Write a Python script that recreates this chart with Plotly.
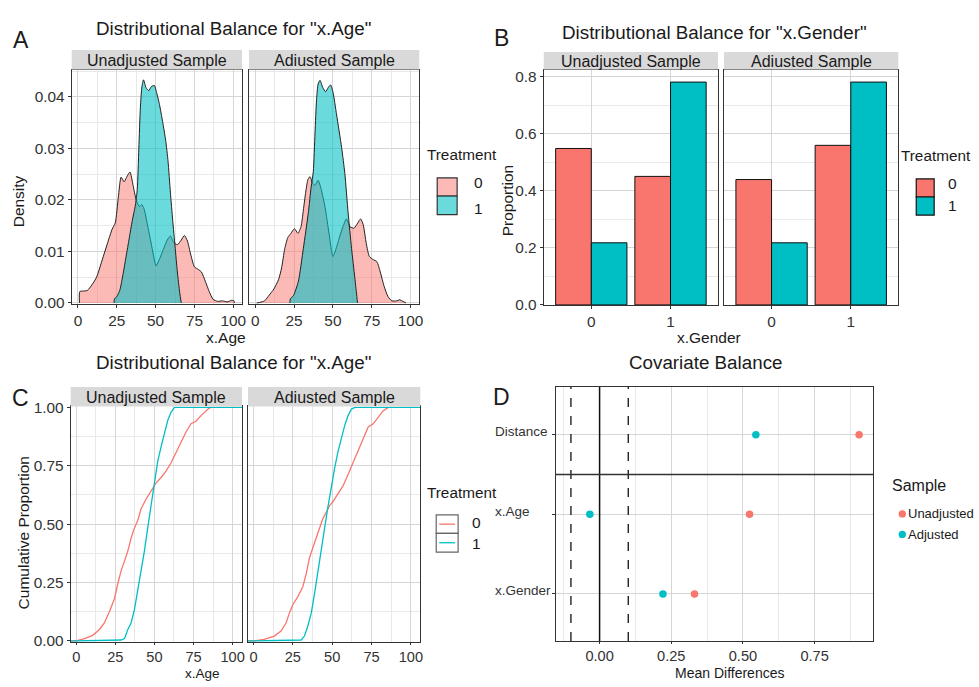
import plotly.graph_objects as go

# ---------------- data ----------------
# Panel A: density of x.Age
dens_unadj_t0_x = [1.0, 1.2, 3, 6, 9, 12, 16, 20, 22, 24, 26, 27.8, 29.8, 31, 33.5, 35.5, 37.5, 39.5, 41, 42.5, 45, 47.5,
                   50.3, 52.5, 55, 57.5, 59.5, 61.5, 64, 66.5, 68.5, 70.5, 72.5, 75, 77.5, 79.5, 82, 84.5, 87, 90, 93, 96,
                   99, 100.5, 100.6]
dens_unadj_t0_y = [0, 0.0022, 0.0023, 0.0024, 0.0035, 0.0050, 0.0087, 0.0125, 0.0143, 0.0155, 0.0205, 0.0244, 0.0235,
                   0.0242, 0.0254, 0.0228, 0.0200, 0.0187, 0.0191, 0.0183, 0.0148, 0.0110, 0.0072, 0.0085, 0.0104, 0.0122,
                   0.0130, 0.0118, 0.0113, 0.0122, 0.0131, 0.0120, 0.0095, 0.0070, 0.0065, 0.0060, 0.0042, 0.0022, 0.0007,
                   0.0003, 0.0004, 0.0002, 0.0005, 0.0004, 0]
dens_unadj_t1_x = [23.3, 23.5, 25, 27, 29, 31, 33, 35, 37, 38.2, 39.2, 40.2, 41.2, 42.2, 43.8, 45.5, 47.3, 49.2, 50.5,
                   52.5, 54.5, 56.5, 58, 59.5, 61, 62.5, 64, 65.5, 66.5]
dens_unadj_t1_y = [0, 0.0008, 0.0012, 0.0025, 0.0055, 0.0090, 0.0125, 0.0160, 0.0190, 0.0220, 0.0300, 0.0380, 0.0420,
                   0.0433, 0.0418, 0.0412, 0.0420, 0.0422, 0.0410, 0.0385, 0.0352, 0.0315, 0.0275, 0.0215, 0.0160,
                   0.0110, 0.0060, 0.0020, 0]
dens_adj_t0_x = [1.0, 3, 6, 9, 12, 15, 17, 19, 21, 23, 25.3, 27.5, 29.5, 31, 32.5, 34, 35.3, 37, 38.5, 40.5, 42.5, 45,
                 47.5, 50, 52, 54.5, 56.5, 58.7, 61, 63.5, 66, 67.8, 69.5, 71.5, 73.5, 76, 78.3, 80.5, 83, 85.5, 88, 91,
                 93, 95, 97]
dens_adj_t0_y = [0, 0.0001, 0.0004, 0.0015, 0.0027, 0.0045, 0.0068, 0.0105, 0.0127, 0.0135, 0.0144, 0.0135, 0.0148,
                 0.0180, 0.0215, 0.0240, 0.0245, 0.0232, 0.0228, 0.0238, 0.0220, 0.0185, 0.0135, 0.0090, 0.0105, 0.0130,
                 0.0148, 0.0163, 0.0148, 0.0145, 0.0155, 0.0163, 0.0152, 0.0115, 0.0090, 0.0084, 0.0080, 0.0060, 0.0032,
                 0.0012, 0.0004, 0.0004, 0.0006, 0.0003, 0]
dens_adj_t1_x = [22.4, 22.6, 24.6, 27.8, 31, 34.2, 36, 37.4, 38.5, 39.5, 40.5, 41.7, 43.5, 45.3, 47, 48.5, 50, 52.4,
                 55.6, 57.7, 59.8, 62, 64.1, 65.5, 65.8]
dens_adj_t1_y = [0, 0.0008, 0.0014, 0.0042, 0.0106, 0.0175, 0.0225, 0.0255, 0.0330, 0.0395, 0.0425, 0.0432, 0.0418,
                 0.0410, 0.0418, 0.0423, 0.0410, 0.0365, 0.0302, 0.0251, 0.0175, 0.0106, 0.0049, 0.0010, 0]

# Panel B: proportion of x.Gender
gender_levels = ["0", "1"]
prop_unadj_t0 = [0.549, 0.451]
prop_unadj_t1 = [0.218, 0.782]
prop_adj_t0 = [0.440, 0.560]
prop_adj_t1 = [0.218, 0.782]

# Panel C: empirical CDF of x.Age
ecdf_unadj_t0_x = [-3.5, 0, 5.3, 10.6, 14.9, 18, 21.3, 24.5, 26.6, 28.7, 30.9, 33, 35.1, 37.2, 39.4, 41.5, 44.7, 47.9,
                   51, 54.3, 57.4, 60.6, 63.8, 67, 70.2, 73.4, 76.6, 79.8, 83, 85, 86.2, 106]
ecdf_unadj_t0_y = [0, 0, 0.010, 0.024, 0.049, 0.077, 0.126, 0.182, 0.245, 0.300, 0.343, 0.385, 0.440, 0.483, 0.517,
                   0.566, 0.608, 0.643, 0.676, 0.700, 0.727, 0.762, 0.804, 0.853, 0.895, 0.930, 0.941, 0.965, 0.986,
                   0.997, 1.0, 1.0]
ecdf_unadj_t1_x = [-3.5, 0, 28.7, 30.9, 33, 35.1, 37.2, 39.4, 41.5, 43.6, 45.7, 47.9, 50, 52.1, 54.3, 56.4, 58.5, 60.6,
                   62.8, 106]
ecdf_unadj_t1_y = [0, 0, 0.004, 0.010, 0.049, 0.077, 0.133, 0.217, 0.300, 0.385, 0.483, 0.580, 0.685, 0.769, 0.832,
                   0.895, 0.944, 0.979, 1.0, 1.0]
ecdf_adj_t0_x = [-3.5, 0, 6.8, 13.2, 17.5, 20.7, 22.8, 24.9, 28.1, 31.3, 33.5, 35.6, 37.7, 39.9, 42, 44.1, 46.3, 48.4,
                 50.5, 53.7, 56.9, 60.1, 63.3, 66.5, 69.7, 72.9, 76.1, 79.3, 82.5, 85.7, 106]
ecdf_adj_t0_y = [0, 0, 0.007, 0.021, 0.042, 0.077, 0.119, 0.154, 0.189, 0.231, 0.287, 0.357, 0.399, 0.440, 0.483,
                 0.524, 0.552, 0.580, 0.597, 0.629, 0.664, 0.713, 0.762, 0.811, 0.860, 0.916, 0.930, 0.958, 0.986,
                 1.0, 1.0]
ecdf_adj_t1_x = [-3.5, 0, 30.3, 32.4, 34.5, 36.7, 38.8, 40.9, 43.1, 45.2, 47.3, 49.5, 51.6, 53.7, 55.9, 58, 60.1, 62.3,
                 64.4, 106]
ecdf_adj_t1_y = [0, 0, 0.004, 0.021, 0.063, 0.119, 0.203, 0.300, 0.399, 0.483, 0.573, 0.664, 0.741, 0.811, 0.874,
                 0.923, 0.965, 0.993, 1.0, 1.0]

# Panel D: covariate balance (mean differences)
bal_vars = ["x.Gender", "x.Age", "Distance"]
bal_unadj = [0.331, 0.523, 0.905]
bal_adj = [0.221, -0.034, 0.545]
bal_threshold = 0.1

facet_labels = ["Unadjusted Sample", "Adiusted Sample"]
treat_levels = ["0", "1"]
sample_levels = ["Unadjusted", "Adjusted"]

# ---------------- styling ----------------
W, H = 979, 687
RED = "#F8766D"
TEAL = "#00BFC4"
RED_A = "rgba(248,118,109,0.5)"
TEAL_A = "rgba(0,191,196,0.58)"
TXT = "#1a1a1a"
TICK = "#333333"
FONT = "Liberation Sans, Arial, sans-serif"


def fx(p):
    return p / W


def fy(p):
    return 1 - p / H


panels = {
    "A1": ((72, 243), (63, 303)),
    "A2": ((250, 421), (63, 303)),
    "B1": ((546, 721), (63, 304)),
    "B2": ((727, 902), (63, 304)),
    "C1": ((71, 243), (408, 649)),
    "C2": ((249, 422), (408, 649)),
    "D": ((558, 877), (388, 648)),
}
order = ["A1", "A2", "B1", "B2", "C1", "C2", "D"]


def dom(name):
    (x0, x1), (y0, y1) = panels[name]
    return [fx(x0), fx(x1)], [fy(y1), fy(y0)]


fig = go.Figure()

base = dict(showline=True, mirror=True, linecolor="#333333", linewidth=1, showgrid=True,
            gridcolor="#D6D6D6", gridwidth=1, zeroline=False, ticks="outside", ticklen=3,
            tickcolor=TICK, tickfont=dict(size=15.4, color=TICK, family=FONT), fixedrange=True)
minor_grid = dict(showgrid=True, gridcolor="#E9E9E9", gridwidth=0.7, ticks="")
bottom_tickfont = dict(size=14.6, color=TICK, family=FONT)

layout_axes = {}
for i, name in enumerate(order, start=1):
    xs = "" if i == 1 else str(i)
    xd, yd = dom(name)
    xa = dict(base, domain=xd, anchor="y" + xs)
    ya = dict(base, domain=yd, anchor="x" + xs)
    if name.startswith("A") or name.startswith("C"):
        rng = [-4, 105.6] if name.startswith("A") else [-3.5, 106]
        xa.update(range=rng, tickmode="linear", tick0=0, dtick=25,
                  minor=dict(minor_grid, tick0=0, dtick=12.5))
    if name.startswith("A"):
        ya.update(range=[-0.0002, 0.0453], tickmode="linear", tick0=0, dtick=0.01, tickformat=".2f",
                  minor=dict(minor_grid, tick0=0, dtick=0.005))
    if name.startswith("C"):
        ya.update(range=[-0.004, 1.004], tickmode="linear", tick0=0, dtick=0.25, tickformat=".2f",
                  minor=dict(minor_grid, tick0=0, dtick=0.125))
        xa.update(tickfont=bottom_tickfont, ticklen=2)
    if name.startswith("B"):
        xa.update(type="category", categoryorder="array", categoryarray=gender_levels, range=[-0.6, 1.6])
        ya.update(range=[0, 0.826], tickmode="linear", tick0=0, dtick=0.2, tickformat=".1f",
                  minor=dict(minor_grid, tick0=0, dtick=0.1))
    if name == "D":
        xa.update(range=[-0.153, 0.955], tickmode="linear", tick0=0, dtick=0.25, tickformat=".2f",
                  minor=dict(minor_grid, tick0=0, dtick=0.125), tickfont=bottom_tickfont, ticklen=2)
        ya.update(type="category", categoryorder="array", categoryarray=bal_vars, range=[-0.59, 2.6],
                  showticklabels=False)
    if name in ("A2", "B2", "C2"):
        ya.update(showticklabels=False, ticks="")
    layout_axes["xaxis" + xs] = xa
    layout_axes["yaxis" + xs] = ya

# ---- Panel A traces
dens_sets = [
    ("", [(dens_unadj_t0_x, dens_unadj_t0_y, RED_A), (dens_unadj_t1_x, dens_unadj_t1_y, TEAL_A)]),
    ("2", [(dens_adj_t0_x, dens_adj_t0_y, RED_A), (dens_adj_t1_x, dens_adj_t1_y, TEAL_A)]),
]
for s, series in dens_sets:
    for xv, yv, fc in series:
        fig.add_trace(go.Scatter(x=xv, y=yv, mode="lines", fill="tozeroy", fillcolor=fc,
                                 line=dict(color="#222222", width=1, shape="spline", smoothing=0.6),
                                 xaxis="x" + s, yaxis="y" + s, showlegend=False, hoverinfo="skip"))

# ---- Panel B traces
for s, (v0, v1) in [("3", (prop_unadj_t0, prop_unadj_t1)), ("4", (prop_adj_t0, prop_adj_t1))]:
    fig.add_trace(go.Bar(x=gender_levels, y=v0, marker=dict(color=RED, line=dict(color="#111111", width=1)),
                         offsetgroup="t0", xaxis="x" + s, yaxis="y" + s, showlegend=False))
    fig.add_trace(go.Bar(x=gender_levels, y=v1, marker=dict(color=TEAL, line=dict(color="#111111", width=1)),
                         offsetgroup="t1", xaxis="x" + s, yaxis="y" + s, showlegend=False))

# ---- Panel C traces
for s, series in [("5", [(ecdf_unadj_t0_x, ecdf_unadj_t0_y, RED), (ecdf_unadj_t1_x, ecdf_unadj_t1_y, TEAL)]),
                  ("6", [(ecdf_adj_t0_x, ecdf_adj_t0_y, RED), (ecdf_adj_t1_x, ecdf_adj_t1_y, TEAL)])]:
    for xv, yv, c in series:
        fig.add_trace(go.Scatter(x=xv, y=yv, mode="lines", line=dict(color=c, width=1.3),
                                 xaxis="x" + s, yaxis="y" + s, showlegend=False, hoverinfo="skip"))

# ---- Panel D traces
fig.add_trace(go.Scatter(x=bal_unadj, y=bal_vars, mode="markers", marker=dict(color=RED, size=7.5),
                         xaxis="x7", yaxis="y7", showlegend=False))
fig.add_trace(go.Scatter(x=bal_adj, y=bal_vars, mode="markers", marker=dict(color=TEAL, size=7.5),
                         xaxis="x7", yaxis="y7", showlegend=False))

shapes = []
# reference lines in D
shapes.append(dict(type="line", xref="x7", yref="y7 domain", x0=0, x1=0, y0=0, y1=1,
                   line=dict(color="#111111", width=1.5)))
for t in (-bal_threshold, bal_threshold):
    shapes.append(dict(type="line", xref="x7", yref="y7 domain", x0=t, x1=t, y0=0, y1=1,
                       line=dict(color="#111111", width=1.3, dash="dash")))
shapes.append(dict(type="line", xref="x7 domain", yref="y7", x0=0, x1=1, y0=1.5, y1=1.5,
                   line=dict(color="#333333", width=1.5)))

annotations = []


def text(x, y, t, size=15, color=TXT, xanchor="center", yanchor="middle", angle=0):
    annotations.append(dict(x=fx(x), y=fy(y), xref="paper", yref="paper", text=t, showarrow=False,
                            font=dict(size=size, color=color, family=FONT), xanchor=xanchor,
                            yanchor=yanchor, textangle=angle, borderpad=0))


# strips
strips = [("A1", (43, 63)), ("A2", (43, 63)), ("B1", (45, 63)), ("B2", (45, 63)),
          ("C1", (388, 408)), ("C2", (388, 408))]
for k, (name, (sy0, sy1)) in enumerate(strips):
    (x0, x1), _ = panels[name]
    shapes.append(dict(type="rect", xref="paper", yref="paper", x0=fx(x0), x1=fx(x1), y0=fy(sy1), y1=fy(sy0),
                       fillcolor="#D9D9D9", line=dict(width=0)))
    text((x0 + x1) / 2, (sy0 + sy1) / 2 + 0.5, facet_labels[k % 2], size=16)

# titles and panel letters
text(234, 21, 'Distributional Balance for "x.Age"', size=18.8)
text(717, 25, 'Distributional Balance for "x.Gender"', size=18.8)
text(234, 363, 'Distributional Balance for "x.Age"', size=18.8)
text(708, 363, "Covariate Balance", size=18.8)
text(21, 33, "A", size=23)
text(504, 31, "B", size=23)
text(21, 399, "C", size=23)
text(504, 398, "D", size=23)

# axis titles
text(227, 337, "x.Age", size=15.5)
text(712, 337, "x.Gender", size=15.5)
text(203, 681, "x.Age", size=13.5)
text(732, 681, "Mean Differences", size=14)
text(18, 198, "Density", size=15.5, angle=-90)
text(509, 197, "Proportion", size=15.5, angle=-90)
text(24, 537, "Cumulative Proportion", size=15.5, angle=-90)

# D y labels (left aligned)
for v in bal_vars:
    annotations.append(dict(x=fx(495), y=v, xref="paper", yref="y7", yshift=3, text=v, showarrow=False,
                            xanchor="left", yanchor="middle", font=dict(size=13.5, color=TICK, family=FONT)))

# legend A (fill keys)
text(428, 150, "Treatment", size=15.3, xanchor="left")
for (ky0, ky1), fc in [((174, 192.5), RED_A), ((192.5, 211.5), TEAL_A)]:
    shapes.append(dict(type="rect", xref="paper", yref="paper", x0=fx(439), x1=fx(459), y0=fy(ky1), y1=fy(ky0),
                       fillcolor=fc, line=dict(color="#333333", width=1.2)))
text(480, 179, treat_levels[0], size=15.5)
text(480, 205, treat_levels[1], size=15.5)

# legend B
text(904, 151, "Treatment", size=15.3, xanchor="left")
for (ky0, ky1), fc in [((175, 193.5), RED), ((193.5, 212), TEAL)]:
    shapes.append(dict(type="rect", xref="paper", yref="paper", x0=fx(920), x1=fx(938), y0=fy(ky1), y1=fy(ky0),
                       fillcolor=fc, line=dict(color="#111111", width=1.2)))
text(956, 180, treat_levels[0], size=15.5)
text(956, 202, treat_levels[1], size=15.5)

# legend C (line keys)
text(428, 496, "Treatment", size=15.3, xanchor="left")
for (ky0, ky1), c in [((519, 538), RED), ((538, 557), TEAL)]:
    shapes.append(dict(type="rect", xref="paper", yref="paper", x0=fx(438), x1=fx(460), y0=fy(ky1), y1=fy(ky0),
                       fillcolor="white", line=dict(color="#666666", width=1.2)))
    ym = (ky0 + ky1) / 2
    shapes.append(dict(type="line", xref="paper", yref="paper", x0=fx(441), x1=fx(457), y0=fy(ym), y1=fy(ym),
                       line=dict(color=c, width=1.3)))
text(478, 527, treat_levels[0], size=15.5)
text(478, 548, treat_levels[1], size=15.5)

# legend D (point keys)
text(895, 489, "Sample", size=16, xanchor="left")
for cy, c, lab in [(518, RED, sample_levels[0]), (539, TEAL, sample_levels[1])]:
    shapes.append(dict(type="circle", xref="paper", yref="paper", x0=fx(902.3), x1=fx(909.7),
                       y0=fy(cy + 3.7), y1=fy(cy - 3.7), fillcolor=c, line=dict(width=0)))
    text(911, cy, lab, size=13, xanchor="left")

fig.update_layout(
    width=W, height=H, autosize=False, margin=dict(l=0, r=0, t=0, b=0),
    paper_bgcolor="white", plot_bgcolor="white", barmode="group", bargap=0.1, bargroupgap=0,
    font=dict(family=FONT, color=TXT), showlegend=False,
    shapes=shapes, annotations=annotations, **layout_axes,
)

fig.write_html("out.html", config={"displayModeBar": False, "responsive": False},
               post_script="document.body.style.margin='0';document.body.style.padding='0';")
